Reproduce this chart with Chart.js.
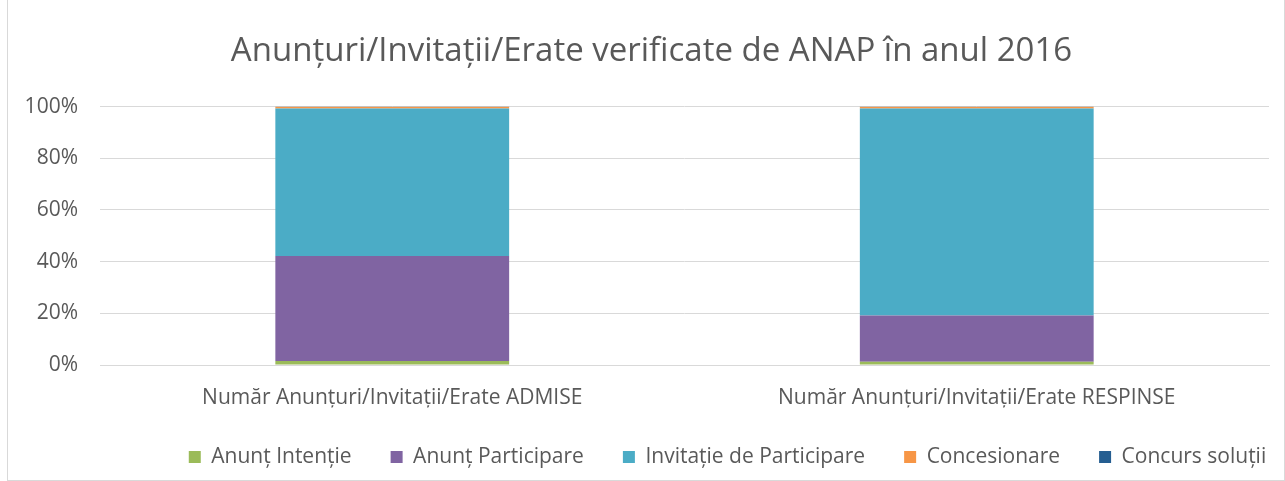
<!DOCTYPE html>
<html><head><meta charset="utf-8">
<script src="https://cdn.jsdelivr.net/npm/chart.js@4/dist/chart.umd.min.js"></script>
<style>
html,body{margin:0;padding:0;background:#fff;}
#wrap{position:absolute;left:7px;top:-1px;width:1276px;height:480px;border:1px solid #d9d9d9;}
canvas{display:block;}
</style></head><body>
<div id="wrap"><canvas id="c" width="1276" height="480"></canvas></div>
<script>
const categories = ["Număr Anunțuri/Invitații/Erate ADMISE", "Număr Anunțuri/Invitații/Erate RESPINSE"];
const seriesNames = ["Anunț Intenție", "Anunț Participare", "Invitație de Participare", "Concesionare", "Concurs soluții"];
const anuntIntentie = [1.5, 1.3];
const anuntParticipare = [40.7, 17.9];
const invitatieParticipare = [57.1, 80.1];
const concesionare = [0.68, 0.68];
const concursSolutii = [0.02, 0.02];
const yTicks = [0, 20, 40, 60, 80, 100];
const colors = ["#9BBB59", "#8064A2", "#4BACC6", "#F79646", "#255E91"];
const values = [anuntIntentie, anuntParticipare, invitatieParticipare, concesionare, concursSolutii];

const FONT = "'Open Sans', sans-serif";
const LEGEND_H = 64.5;
const LEGEND_SHIFT = 89;
const TITLE_SHIFT = 13;
const layoutFix = {
  id: 'layoutFix',
  beforeLayout(chart) {
    const lg = chart.legend;
    if (lg && !lg._patched) {
      const f = lg.fit.bind(lg);
      lg.fit = function () { f(); this.height = LEGEND_H; };
      lg._patched = true;
    }
  },
  afterLayout(chart) {
    const lg = chart.legend;
    if (lg) { lg.left += LEGEND_SHIFT; lg.right += LEGEND_SHIFT; }
    const tb = chart.titleBlock;
    if (tb) { tb.left += TITLE_SHIFT; tb.right += TITLE_SHIFT; }
  }
};

new Chart(document.getElementById('c'), {
  type: 'bar',
  data: {
    labels: categories,
    datasets: seriesNames.map((n, i) => ({
      label: n, data: values[i], backgroundColor: colors[i],
      barPercentage: 0.4, categoryPercentage: 1.0, borderWidth: 0, inflateAmount: 0
    }))
  },
  plugins: [layoutFix],
  options: {
    responsive: false, animation: false,
    layout: { padding: { left: 0, right: 15, top: 0, bottom: 8 } },
    plugins: {
      title: { display: true, text: "Anunțuri/Invitații/Erate verificate de ANAP în anul 2016",
        color: '#595959', font: { family: FONT, size: 33, weight: 'normal' }, padding: { top: 32, bottom: 35 } },
      legend: { position: 'bottom',
        labels: { color: '#595959', font: { family: FONT, size: 21 }, boxWidth: 12, boxHeight: 12, padding: 39 },
      },
      tooltip: { enabled: false }
    },
    scales: {
      x: { stacked: true, grid: { display: false, drawTicks: false },
        afterFit: s => { s.height = 42.5; },
        border: { display: true, color: '#d9d9d9' },
        ticks: { color: '#595959', font: { family: FONT, size: 21 }, padding: 20 } },
      y: { stacked: true, min: 0, max: 100,
        afterBuildTicks: s => { s.ticks = yTicks.map(v => ({ value: v })); },
        afterFit: s => { s.width = 92; },
        grid: { color: '#d9d9d9', drawTicks: false },
        border: { display: false },
        ticks: { color: '#595959', font: { family: FONT, size: 21 }, padding: 22, callback: v => v + '%' } }
    }
  }
});
</script></body></html>
